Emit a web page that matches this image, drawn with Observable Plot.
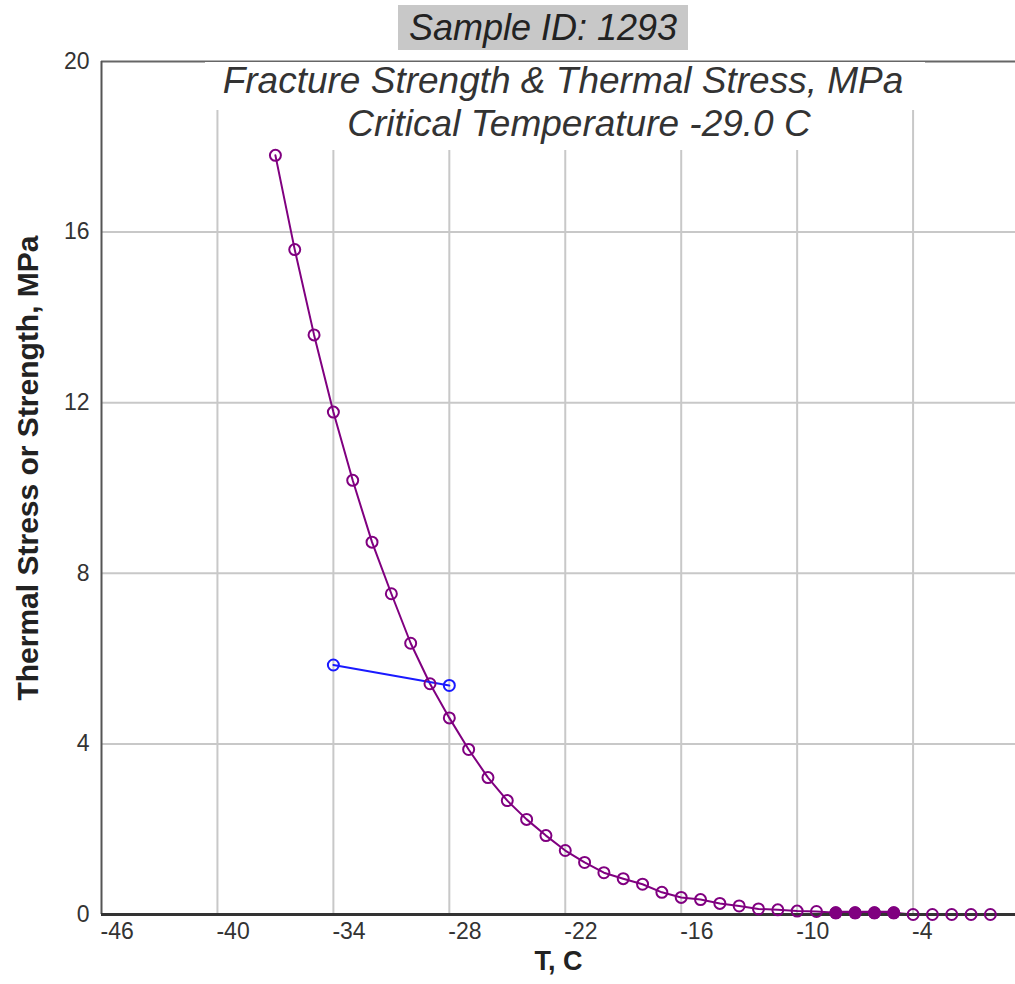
<!DOCTYPE html>
<html>
<head>
<meta charset="utf-8">
<script src="https://cdn.jsdelivr.net/npm/d3@7"></script>
<script src="https://cdn.jsdelivr.net/npm/@observablehq/plot@0.6"></script>
<style>
  html, body { margin: 0; padding: 0; background: #fff; }
  #wrap { position: relative; width: 1015px; height: 984px; overflow: hidden; font-family: "Liberation Sans", Arial, sans-serif; }
  #wrap svg { position: absolute; left: 0; top: 0; }
  .box { position: absolute; background: #fff; }
  .ttl { position: absolute; left: 398px; top: 5px; width: 290px; height: 45px; background: #c8c8c8;
         font-style: italic; font-size: 36px; line-height: 45px; text-align: center; color: #222; }
  .sub { position: absolute; font-style: italic; font-size: 37px; color: #333; white-space: nowrap; transform: translateX(-50%); }
</style>
</head>
<body>
<div id="wrap"></div>
<script>
// Fracture strength curve (purple)
const strengthT = [-37,-36,-35,-34,-33,-32,-31,-30,-29,-28,-27,-26,-25,-24,-23,-22,-21,-20,-19,-18,-17,-16,-15,-14,-13,-12,-11,-10,-9,-8,-7,-6,-5,-4,-3,-2,-1,0];
const strengthV = [17.80,15.59,13.59,11.78,10.18,8.73,7.52,6.36,5.41,4.61,3.87,3.21,2.67,2.23,1.85,1.50,1.22,0.98,0.84,0.71,0.52,0.40,0.35,0.26,0.20,0.13,0.11,0.08,0.07,0.04,0.04,0.04,0.04,0,0,0,0,0];
// Points drawn filled (overlap region)
const overlapT = [-8,-7,-6,-5];
const overlapV = [0.04,0.04,0.04,0.04];
// Thermal stress (blue)
const stressT = [-34,-28];
const stressV = [5.85,5.37];

const xTicks = [-46,-40,-34,-28,-22,-16,-10,-4];
const yTicks = [0,4,8,12,16,20];

const strength = strengthT.map((t,i) => ({t, v: strengthV[i]}));
const overlap = overlapT.map((t,i) => ({t, v: overlapV[i]}));
const stress = stressT.map((t,i) => ({t, v: stressV[i]}));

const purple = "#800080", blue = "#1a1aff";
const fmt = d => String(d);

const chart = Plot.plot({
  width: 1015, height: 984,
  marginLeft: 101, marginRight: 0, marginTop: 61, marginBottom: 70,
  style: { fontFamily: "Liberation Sans, Arial, sans-serif", fontSize: "23px", color: "#333", background: "transparent" },
  x: { domain: [-46, 1.3], label: null },
  y: { domain: [0, 20], label: null },
  marks: [
    Plot.gridX(xTicks.slice(1), { stroke: "#c8c8c8", strokeOpacity: 1, strokeWidth: 2 }),
    Plot.gridY(yTicks.slice(1, -1), { stroke: "#c8c8c8", strokeOpacity: 1, strokeWidth: 2 }),
    Plot.axisX(xTicks, { tickSize: 0, tickPadding: 8, tickFormat: fmt, textAnchor: "start", dx: -1, fontSize: 23, fill: "#333", label: null }),
    Plot.axisY(yTicks, { tickSize: 0, tickPadding: 12, tickFormat: fmt, fontSize: 23, fill: "#333", label: null }),
    Plot.ruleY([20], { stroke: "#666", strokeWidth: 2 }),
    Plot.ruleX([-46], { stroke: "#555", strokeWidth: 2 }),
    Plot.line(strength, { x: "t", y: "v", stroke: purple, strokeWidth: 2 }),
    Plot.line(overlap, { x: "t", y: "v", stroke: purple, strokeWidth: 4 }),
    Plot.line(stress, { x: "t", y: "v", stroke: blue, strokeWidth: 2 }),
    Plot.ruleY([0], { stroke: "#333", strokeWidth: 3 }),
    Plot.dot(strength, { x: "t", y: "v", r: 5.5, stroke: purple, strokeWidth: 2, fill: "none" }),
    Plot.dot(overlap, { x: "t", y: "v", r: 5.5, stroke: purple, strokeWidth: 2, fill: purple }),
    Plot.dot(stress, { x: "t", y: "v", r: 5.5, stroke: blue, strokeWidth: 2, fill: "none" }),
    Plot.text(["T, C"], { frameAnchor: "bottom", dy: 55, fontWeight: "bold", fontSize: 27, fill: "#222" }),
    Plot.text(["Thermal Stress or Strength, MPa"], { frameAnchor: "left", textAnchor: "middle", dx: -73, dy: -20, rotate: -90, fontWeight: "bold", fontSize: 30, fill: "#222" })
  ]
});

const wrap = document.getElementById("wrap");
wrap.appendChild(chart);

function div(cls, style, text) {
  const d = document.createElement("div");
  d.className = cls;
  Object.assign(d.style, style);
  if (text) d.textContent = text;
  wrap.appendChild(d);
  return d;
}
div("box", { left: "205px", top: "62px", width: "720px", height: "48px" });
div("box", { left: "300px", top: "110px", width: "560px", height: "40px" });
div("sub", { left: "563px", top: "60px" }, "Fracture Strength & Thermal Stress, MPa");
div("sub", { left: "579px", top: "103px" }, "Critical Temperature -29.0 C");
div("ttl", {}, "Sample ID: 1293");
</script>
</body>
</html>
